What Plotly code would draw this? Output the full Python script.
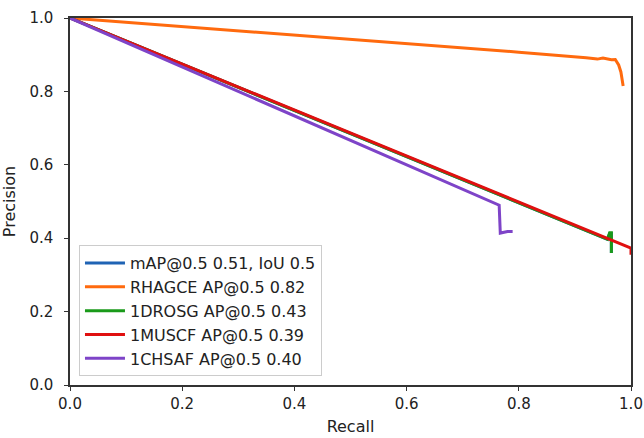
import plotly.graph_objects as go

# Data
map_recall = [0.0, 0.958, 0.962, 0.965, 0.965]
map_prec = [1.0, 0.397, 0.413, 0.413, 0.36]

rh_recall = [0.0, 0.2, 0.4, 0.6, 0.8, 0.92, 0.94, 0.95, 0.965, 0.972, 0.978, 0.982, 0.985, 0.986]
rh_prec = [1.0, 0.977, 0.953, 0.93, 0.907, 0.892, 0.888, 0.891, 0.886, 0.887, 0.872, 0.853, 0.83, 0.815]

dr_recall = [0.0, 0.958, 0.962, 0.965, 0.965]
dr_prec = [1.0, 0.397, 0.415, 0.415, 0.36]

mu_recall = [0.0, 1.0, 1.0]
mu_prec = [1.0, 0.373, 0.355]

ch_recall = [0.0, 0.765, 0.767, 0.78, 0.789]
ch_prec = [1.0, 0.49, 0.414, 0.418, 0.418]

names = ["mAP@0.5 0.51, IoU 0.5", "RHAGCE AP@0.5 0.82", "1DROSG AP@0.5 0.43",
         "1MUSCF AP@0.5 0.39", "1CHSAF AP@0.5 0.40"]
colors = ["#1f63b4", "#ff6a0e", "#1a9a1a", "#e01010", "#7e44c8"]
xs = [map_recall, rh_recall, dr_recall, mu_recall, ch_recall]
ys = [map_prec, rh_prec, dr_prec, mu_prec, ch_prec]

x_ticks = [0.0, 0.2, 0.4, 0.6, 0.8, 1.0]
y_ticks = [0.0, 0.2, 0.4, 0.6, 0.8, 1.0]

fig = go.Figure()
for x, y, n, c in zip(xs, ys, names, colors):
    fig.add_trace(go.Scatter(x=x, y=y, mode="lines", name=n,
                             line=dict(color=c, width=3)))

FONT = "DejaVu Sans"
fig.update_layout(
    width=644, height=438,
    margin=dict(l=70, r=13, t=18, b=53),
    paper_bgcolor="white", plot_bgcolor="white",
    font=dict(family=FONT, size=15, color="#222"),
    showlegend=True,
    legend=dict(x=0.016, y=0.381, xanchor="left", yanchor="top",
                bgcolor="rgba(255,255,255,0.9)", bordercolor="#ccc", borderwidth=1,
                font=dict(family=FONT, size=16, color="#222"),
                itemwidth=40, tracegroupgap=0),
)
axis_common = dict(range=[0, 1], showgrid=False, zeroline=False, showline=True,
                   linecolor="#333", linewidth=1.5, mirror=True, ticks="outside",
                   ticklen=4, tickcolor="#333", automargin=False,
                   tickfont=dict(family=FONT, size=15, color="#222"))
fig.update_xaxes(tickvals=x_ticks, ticktext=[f"{v:.1f}" for v in x_ticks],
                 title=dict(text="Recall", standoff=9, font=dict(family=FONT, size=16)),
                 **axis_common)
fig.update_yaxes(tickvals=y_ticks, ticktext=[f"{v:.1f}" for v in y_ticks],
                 ticklabelstandoff=8,
                 title=dict(text="Precision", standoff=12, font=dict(family=FONT, size=16)),
                 **axis_common)

fig.write_html("out.html", config={"displayModeBar": False},
               post_script="document.body.style.margin='0';")
